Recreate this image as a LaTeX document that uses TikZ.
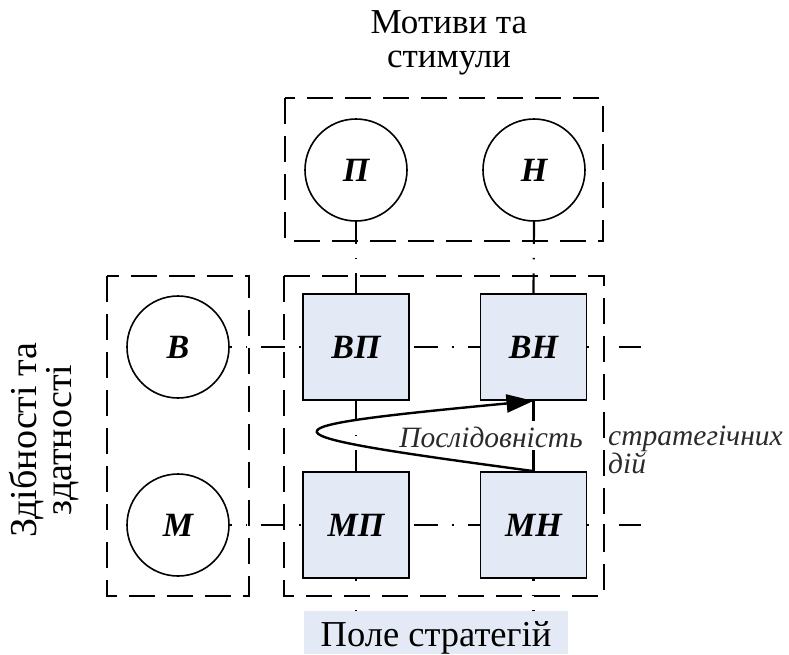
\documentclass[tikz,border=0pt]{standalone}
\usepackage{fontspec}
\setmainfont{Liberation Serif}
\usetikzlibrary{arrows.meta}
\definecolor{cellblue}{HTML}{E4EAF5}
\definecolor{seqgray}{HTML}{2A2A2A}
\begin{document}
\begin{tikzpicture}[x=1pt,y=-1pt,
  group/.style={draw, line width=2.6pt, dash pattern=on 26pt off 12pt},
  motive/.style={circle, draw, line width=1.6pt, fill=white, minimum size=102pt,
    inner sep=0pt, font=\fontsize{34}{40}\selectfont\bfseries\itshape},
  cell/.style={rectangle, draw, line width=1.8pt, fill=cellblue, minimum width=106pt,
    minimum height=106pt, inner sep=0pt, font=\fontsize{34}{40}\selectfont\bfseries\itshape},
  link/.style={line width=2.2pt, dash pattern=on 24pt off 14pt on 1.5pt off 14pt},
  seqtext/.style={font=\fontsize{29.5}{23}\selectfont\itshape, text=seqgray},
]
\useasboundingbox (0,0) rectangle (789,654);

% dashed groups
\draw[group] (285,98) rectangle (603,241);
\draw[group] (107,276) rectangle (249,596);
\draw[group] (284,276) rectangle (604,596);

% captions
\node[align=center, font=\fontsize{35}{34}\selectfont] (title) at (449,43) {Мотиви та\\стимули};
\node[rotate=90, align=center, font=\fontsize{38}{35}\selectfont] (side) at (44,440) {Здібності та\\здатності};
\node[fill=cellblue, minimum width=264pt, minimum height=43pt, inner sep=0pt,
  text height=27pt, text depth=0pt, font=\fontsize{36.5}{36}\selectfont] (lab) at (436,632.5) {Поле стратегій};

% motives and abilities
\node[motive] (P) at (356,170) {П};
\node[motive] (N) at (534,170) {Н};
\node[motive] (B) at (178,347) {В};
\node[motive] (M) at (178,525) {М};

% strategy cells
\node[cell] (VP) at (356,347) {ВП};
\node[cell] (VN) at (533.5,347) {ВН};
\node[cell] (MP) at (356,525) {МП};
\node[cell] (MN) at (533.5,525) {МН};

\coordinate (rowA) at (641,347);
\coordinate (rowB) at (641,525);

% dash-dot links
\draw[link, dash phase=22pt] (B.east) -- (VP.west);
\draw[link, dash phase=49pt] (VP.east) -- (VN.west);
\draw[link, dash phase=22pt] (VN.east) -- (rowA);
\draw[link, dash phase=22pt] (M.east) -- (MP.west);
\draw[link, dash phase=49pt] (MP.east) -- (MN.west);
\draw[link, dash phase=22pt] (MN.east) -- (rowB);
\draw[link, dash phase=2pt] (P.south) -- (VP.north);
\draw[link, dash phase=2pt] (N.south) -- (VN.north);
\draw[link, dash phase=4pt] (VP.south) -- (MP.north);
\draw[link, dash phase=4pt] (VN.south) -- (MN.north);
\draw[link, dash phase=22pt] (MP.south) -- (MP.south |- lab.north);
\draw[link, dash phase=22pt] (MN.south) -- (MN.south |- lab.north);

% sequence of strategic actions
\draw[line width=2.4pt, -{Triangle[length=27pt,width=18pt]}]
  (MN.north) .. controls (249,433) and (249,428) .. (VN.south);
\node[seqtext, fill=white, inner sep=1pt] (seqA) at (491,437) {Послідовність};
\node[seqtext, anchor=west, align=left, inner sep=0pt] (seqB) at (608,450) {стратегічних\\дій};
\end{tikzpicture}
\end{document}
